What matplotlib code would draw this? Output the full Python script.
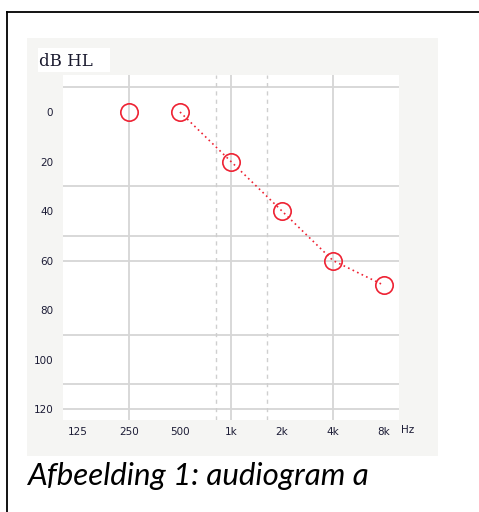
import matplotlib
matplotlib.use("Agg")
import matplotlib.pyplot as plt
from matplotlib.patches import Rectangle
import matplotlib.transforms as mtransforms

# Audiogram data (frequency index in octaves from 125 Hz, threshold in dB HL)
freq_labels = ["125", "250", "500", "1k", "2k", "4k", "8k"]
freq_pos = [0, 1, 2, 3, 4, 5, 6]

point_freqs = [1, 2, 3, 4, 5, 6]
point_db = [0, 0, 20, 40, 60, 70]

line_freqs = [2, 3, 4, 5, 6]
line_db = [0, 20, 40, 60, 70]

db_ticks = [0, 20, 40, 60, 80, 100, 120]
h_grid = [-10, 30, 50, 60, 90, 110, 120]
v_grid_solid = [1, 3, 5]
v_grid_dashed = [2.7, 3.7]

W, H = 479, 512
fig = plt.figure(figsize=(W / 100, H / 100), dpi=100)
fig.patch.set_facecolor("white")

def fx(px):
    return px / W

def fy(py):
    return 1 - py / H

# outer frame (left and top edges)
fig.add_artist(plt.Line2D([fx(7), fx(7)], [0, fy(12)], color="black", lw=1.3))
fig.add_artist(plt.Line2D([fx(7), 1], [fy(12), fy(12)], color="black", lw=1.3))

# light grey panel behind the chart
fig.add_artist(Rectangle((fx(27), fy(456)), fx(438) - fx(27), fy(38) - fy(456),
                         facecolor="#f5f5f3", edgecolor="none", zorder=0))
# white label box
fig.add_artist(Rectangle((fx(38), fy(72)), fx(110) - fx(38), fy(48) - fy(72),
                         facecolor="white", edgecolor="none", zorder=1))
fig.text(fx(39), fy(65.5), "dB HL", family="DejaVu Serif", fontsize=12,
         color="#1a1a2e", va="baseline", ha="left", zorder=2)

ax = fig.add_axes([fx(63), fy(420), fx(399) - fx(63), fy(75) - fy(420)])
ax.set_facecolor("white")
for s in ax.spines.values():
    s.set_visible(False)

ax.set_xlim(-0.294, 6.294)
ax.set_ylim(124.4, -14.95)

for y in h_grid:
    ax.axhline(y, color="#d6d6d6", lw=1.3, zorder=1)
for x in v_grid_solid:
    ax.axvline(x, color="#d6d6d6", lw=1.3, zorder=1)
for x in v_grid_dashed:
    ax.axvline(x, color="#cfcfcf", lw=1.0, ls=(0, (3, 3)), zorder=1)

red = "#ee2233"
ax.plot(line_freqs, line_db, color=red, lw=1.2, ls=(0, (1, 2.0)), zorder=3)
ax.plot(point_freqs, point_db, ls="none", marker="o", ms=12.5, mfc="none",
        mec=red, mew=1.2, zorder=4)

ax.set_xticks(freq_pos)
ax.set_xticklabels(freq_labels)
ax.set_yticks(db_ticks)
ax.set_yticklabels([str(v) for v in db_ticks])
ax.tick_params(length=0, labelsize=7.5, labelcolor="#1c1c36", pad=7)
ax.tick_params(axis="x", pad=5)

trans = mtransforms.blended_transform_factory(ax.transData, ax.transAxes)
ax.text(6.47, -(430 - 420) / (420 - 75), "Hz", transform=trans, fontsize=7.5,
        color="#1c1c36", ha="center", va="center")

fig.text(fx(27), fy(485), "Afbeelding 1: audiogram a", family="Lato",
         style="italic", fontsize=22.5, color="black", va="baseline", ha="left")

fig.savefig("out.png", dpi=100)
